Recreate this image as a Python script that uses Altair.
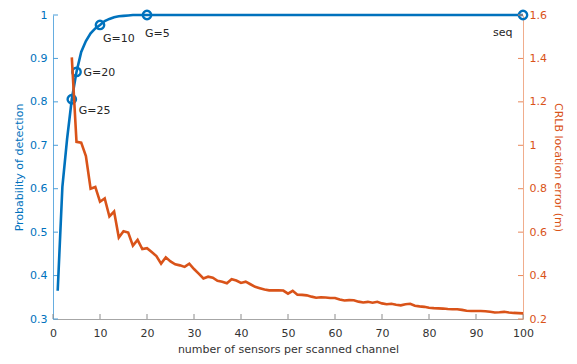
import altair as alt
import pandas as pd

# ---- data ----
blue_x = list(range(1, 21)) + [25, 30, 35, 40, 45, 50, 55, 60, 65, 70, 75, 80, 85, 90, 95, 100]
blue_y = [0.365, 0.605, 0.715, 0.806, 0.869, 0.915, 0.94, 0.958, 0.969, 0.977,
          0.986, 0.991, 0.995, 0.997, 0.998, 0.999, 1.0, 1.0, 1.0, 1.0,
          1.0, 1.0, 1.0, 1.0, 1.0, 1.0, 1.0, 1.0, 1.0, 1.0, 1.0, 1.0, 1.0, 1.0, 1.0, 1.0]

orange_x = list(range(4, 101))
orange_y = [1.405, 1.016, 1.012, 0.95, 0.80, 0.808, 0.74, 0.755, 0.672, 0.695,
            0.575, 0.604, 0.598, 0.538, 0.564, 0.522, 0.526, 0.508, 0.49, 0.455,
            0.484, 0.465, 0.452, 0.447, 0.44, 0.455, 0.43, 0.409, 0.387, 0.395,
            0.39, 0.376, 0.372, 0.365, 0.383, 0.377, 0.366, 0.372, 0.36, 0.348,
            0.342, 0.336, 0.332, 0.332, 0.332, 0.331, 0.317, 0.33, 0.312, 0.311,
            0.309, 0.303, 0.298, 0.3, 0.299, 0.297, 0.297, 0.29, 0.285, 0.287,
            0.286, 0.28, 0.276, 0.279, 0.275, 0.279, 0.272, 0.268, 0.27, 0.266,
            0.263, 0.268, 0.27, 0.261, 0.258, 0.256, 0.252, 0.25, 0.249, 0.248,
            0.246, 0.245, 0.245, 0.242, 0.238, 0.237, 0.237, 0.237, 0.236, 0.233,
            0.23, 0.231, 0.233, 0.23, 0.228, 0.227, 0.226]

marker_x = [4, 5, 10, 20, 100]
marker_y = [0.806, 0.869, 0.977, 1.0, 1.0]
marker_label = ["G=25", "G=20", "G=10", "G=5", "seq"]
label_offsets = [(7, 12), (7, 1), (3, 14), (-2, 19), (-30, 18)]

x_ticks = list(range(0, 101, 10))
left_ticks = [0.3, 0.4, 0.5, 0.6, 0.7, 0.8, 0.9, 1.0]
right_ticks = [0.2, 0.4, 0.6, 0.8, 1.0, 1.2, 1.4, 1.6]

BLUE = "#0072BD"
ORANGE = "#D95319"
FONT = "DejaVu Sans"
W, H = 470, 304

blue_df = pd.DataFrame({"x": blue_x, "p": blue_y})
orange_df = pd.DataFrame({"x": orange_x, "e": orange_y})
mk_df = pd.DataFrame({"x": marker_x, "p": marker_y, "lab": marker_label})

xscale = alt.Scale(domain=[0, 100], nice=False, zero=False)
lscale = alt.Scale(domain=[0.3, 1.0], nice=False, zero=False)
rscale = alt.Scale(domain=[0.2, 1.6], nice=False, zero=False)

xaxis = alt.Axis(values=x_ticks, tickSize=0, domainColor="#a6a6a6", labelColor="#333333",
                 labelPadding=8, titlePadding=5, title="number of sensors per scanned channel",
                 titleColor="#333333", grid=False, labelFlush=False)
laxis = alt.Axis(values=left_ticks, tickSize=0, domainColor="#66ade0", labelColor=BLUE,
                 labelPadding=6, titlePadding=5, title="Probability of detection",
                 titleColor=BLUE, grid=False, labelExpr="format(datum.value, '.1~f')")
raxis = alt.Axis(values=right_ticks, tickSize=0, domainColor="#f0ad8d", labelColor=ORANGE,
                 labelPadding=6, titlePadding=6, title="CRLB location error (m)",
                 titleColor=ORANGE, grid=False, orient="right",
                 labelExpr="format(datum.value, '.1~f')")

X = lambda f: alt.X(f, scale=xscale, axis=xaxis)
YL = lambda f: alt.Y(f, scale=lscale, axis=laxis)
YR = lambda f: alt.Y(f, scale=rscale, axis=raxis)

blue_line = alt.Chart(blue_df).mark_line(color=BLUE, strokeWidth=2.6).encode(
    x=X("x:Q"), y=YL("p:Q"))
blue_pts = alt.Chart(mk_df).mark_point(shape="circle", filled=False, color=BLUE,
                                       size=70, strokeWidth=2.4, opacity=1).encode(
    x=X("x:Q"), y=YL("p:Q"))
texts = []
for i, lab in enumerate(marker_label):
    dx, dy = label_offsets[i]
    texts.append(
        alt.Chart(mk_df.iloc[[i]]).mark_text(align="left", baseline="middle", dx=dx, dy=dy,
                                             font=FONT, fontSize=11, color="#262626").encode(
            x=X("x:Q"), y=YL("p:Q"), text="lab:N")
    )

xt = alt.Chart(pd.DataFrame({"v": x_ticks})).mark_rule(color="#8c8c8c", strokeWidth=1).encode(
    x=X("v:Q"), y=alt.value(H), y2=alt.value(H - 5))
lt = alt.Chart(pd.DataFrame({"v": left_ticks})).mark_rule(color="#4d9fd9", strokeWidth=1).encode(
    y=YL("v:Q"), x=alt.value(0), x2=alt.value(5))
rt = alt.Chart(pd.DataFrame({"v": right_ticks})).mark_rule(color="#e8885a", strokeWidth=1).encode(
    y=YR("v:Q"), x=alt.value(W), x2=alt.value(W - 5))

orange_line = alt.Chart(orange_df).mark_line(color=ORANGE, strokeWidth=2.6).encode(
    x=X("x:Q"), y=YR("e:Q"))

left_layer = alt.layer(xt, lt, blue_line, blue_pts, *texts)
right_layer = alt.layer(rt, orange_line)

chart = alt.layer(left_layer, right_layer).resolve_scale(y="independent").properties(
    width=W, height=H,
    padding={"left": 45, "top": 7, "right": 46, "bottom": 37},
    autosize=alt.AutoSizeParams(type="none"),
).configure_view(stroke=None).configure_axis(
    labelFont=FONT, titleFont=FONT, labelFontSize=11, titleFontSize=11, titleFontWeight="normal",
    domainWidth=1,
)

chart.save("out.html", embed_options={"renderer": "svg", "actions": False})
